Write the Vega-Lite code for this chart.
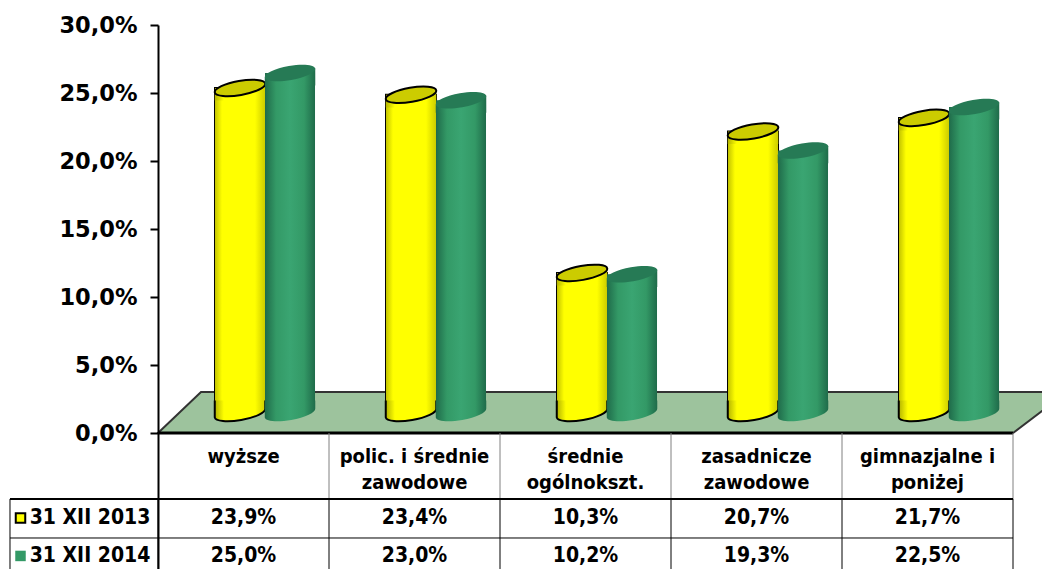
{
"$schema":"https://vega.github.io/schema/vega-lite/v6.json",
"width":855,"height":544,
"autosize":"none",
"padding":{"left":158,"top":25,"right":29,"bottom":0},
"background":"white",
"config":{"view":{"stroke":null},"text":{"font":"DejaVu Sans Condensed","fontWeight":"bold","fontSize":21,"color":"#000"}},
"data":{"values":[
{"kategoria":"wyższe","nazwa":"wyższe","seria":"31 XII 2013","wartosc":23.9,"tekst":"23,9%"},
{"kategoria":"wyższe","nazwa":"wyższe","seria":"31 XII 2014","wartosc":25.0,"tekst":"25,0%"},
{"kategoria":"polic.","nazwa":"polic. i średnie|zawodowe","seria":"31 XII 2013","wartosc":23.4,"tekst":"23,4%"},
{"kategoria":"polic.","nazwa":"polic. i średnie|zawodowe","seria":"31 XII 2014","wartosc":23.0,"tekst":"23,0%"},
{"kategoria":"średnie","nazwa":"średnie|ogólnokszt.","seria":"31 XII 2013","wartosc":10.3,"tekst":"10,3%"},
{"kategoria":"średnie","nazwa":"średnie|ogólnokszt.","seria":"31 XII 2014","wartosc":10.2,"tekst":"10,2%"},
{"kategoria":"zasadnicze","nazwa":"zasadnicze|zawodowe","seria":"31 XII 2013","wartosc":20.7,"tekst":"20,7%"},
{"kategoria":"zasadnicze","nazwa":"zasadnicze|zawodowe","seria":"31 XII 2014","wartosc":19.3,"tekst":"19,3%"},
{"kategoria":"gimnazjalne","nazwa":"gimnazjalne i|poniżej","seria":"31 XII 2013","wartosc":21.7,"tekst":"21,7%"},
{"kategoria":"gimnazjalne","nazwa":"gimnazjalne i|poniżej","seria":"31 XII 2014","wartosc":22.5,"tekst":"22,5%"}
]},
"resolve":{"scale":{"x":"independent"},"axis":{"y":"independent"}},
"layer":[
{
 "data":{"values":[
  {"g":0,"gora":0,"dol":0},
  {"g":43,"gora":3.01,"dol":0},
  {"g":855,"gora":3.01,"dol":0},
  {"g":909,"gora":3.01,"dol":3.01}
 ]},
 "resolve":{"axis":{"y":"independent"}},
 "layer":[
  {"mark":{"type":"area","fill":"#9dc39d","stroke":"#333333","strokeWidth":2,"opacity":1},
   "encoding":{
    "x":{"field":"g","type":"quantitative","axis":null,"scale":{"domain":[0,855],"range":[0,855],"nice":false,"zero":false}},
    "y":{"field":"gora","type":"quantitative","title":null,
     "scale":{"domain":[-10,30],"nice":false,"zero":false},
     "axis":{"values":[0,5,10,15,20,25,30],"title":null,"grid":false,"zindex":1,
      "labelExpr":"replace(format(datum.value,'.1f'),'.',',')+'%'",
      "labelFont":"DejaVu Sans","labelFontWeight":"bold","labelFontSize":22.5,"labelColor":"#000",
      "labelPadding":13,"tickSize":8,"tickWidth":2,"tickColor":"#000","domainColor":"#000","domainWidth":2,"labelOverlap":false,"labelBound":false,"labelFlush":false}},
    "y2":{"field":"dol"}}},
  {"data":{"values":[{}]},"mark":{"type":"rule","color":"#000","strokeWidth":3},
   "encoding":{"x":{"datum":0,"type":"quantitative"},"x2":{"datum":855},"y":{"datum":0,"axis":null}}}
 ]
},
{
 "encoding":{
  "x":{"field":"kategoria","type":"nominal","axis":null,"scale":{"type":"band","domain":["seria","wyższe","polic.","średnie","zasadnicze","gimnazjalne"],"range":[-171,855],"paddingInner":0,"paddingOuter":0}},
  "xOffset":{"field":"seria","type":"nominal","scale":{"domain":["31 XII 2013","31 XII 2014"],"paddingInner":0,"paddingOuter":0.71,"align":0.803}}
 },
 "layer":[
  {"transform":[{"filter":{"field":"seria","equal":"31 XII 2013"}}],
   "layer":[
    {"mark":{"type":"bar","stroke":"#000","strokeWidth":2,"yOffset":-20,"y2Offset":-27,"fill":"#ffff00"},
     "encoding":{"y":{"field":"wartosc","type":"quantitative","axis":null},"y2":{"datum":0}}},
    {"mark":{"type":"bar","xOffset":2,"yOffset":-20,"y2Offset":-27,"fill":{"gradient":"linear","x1":0,"x2":1,"y1":0,"y2":0,"stops":[{"offset":0,"color":"#c4c400"},{"offset":0.14,"color":"#ffff00"},{"offset":0.8,"color":"#ffff00"},{"offset":1,"color":"#cccc00"}]}},
     "encoding":{"y":{"field":"wartosc","type":"quantitative","axis":null},"y2":{"datum":0}}},
    {"mark":{"type":"point","filled":true,"opacity":1,"size":2550,"yOffset":-20,"stroke":"#000","strokeWidth":2,"shape":"M-1,-.5L-1,.176A1.015,.28 -10 0 0 1,-.176L1,-.5","fill":{"gradient":"linear","x1":0,"x2":1,"y1":0,"y2":0,"stops":[{"offset":0,"color":"#b3b300"},{"offset":0.18,"color":"#ffff00"},{"offset":0.8,"color":"#ffff00"},{"offset":1,"color":"#cccc00"}]}},
     "encoding":{"y":{"datum":0,"axis":null}}},
    {"mark":{"type":"point","filled":true,"opacity":1,"size":2550,"yOffset":-20,"strokeWidth":0,"shape":"M-1,.176L-1,.5L1,.5L1,-.176Z","fill":{"gradient":"linear","x1":0,"x2":1,"y1":0,"y2":0,"stops":[{"offset":0,"color":"#b3b300"},{"offset":0.18,"color":"#ffff00"},{"offset":0.8,"color":"#ffff00"},{"offset":1,"color":"#cccc00"}]}},
     "encoding":{"y":{"field":"wartosc","type":"quantitative","axis":null}}},
    {"mark":{"type":"point","filled":true,"opacity":1,"size":2550,"yOffset":-20,"stroke":"#000","strokeWidth":2,"fill":"#cccc00","shape":"M-1,.176A1.015,.28 -10 0 1 1,-.176A1.015,.28 -10 0 1 -1,.176Z"},
     "encoding":{"y":{"field":"wartosc","type":"quantitative","axis":null}}}
   ]},
  {"transform":[{"filter":{"field":"seria","equal":"31 XII 2014"}}],
   "layer":[
    {"mark":{"type":"bar","yOffset":-20,"y2Offset":-27,"fill":{"gradient":"linear","x1":0,"x2":1,"y1":0,"y2":0,"stops":[{"offset":0,"color":"#1f6b4a"},{"offset":0.22,"color":"#339966"},{"offset":0.5,"color":"#3aa572"},{"offset":0.78,"color":"#339966"},{"offset":1,"color":"#1f6b4a"}]}},
     "encoding":{"y":{"field":"wartosc","type":"quantitative","axis":null},"y2":{"datum":0}}},
    {"mark":{"type":"point","filled":true,"opacity":1,"size":2550,"yOffset":-20,"strokeWidth":0,"shape":"M-1,-.5L-1,.176A1.015,.28 -10 0 0 1,-.176L1,-.5","fill":{"gradient":"linear","x1":0,"x2":1,"y1":0,"y2":0,"stops":[{"offset":0,"color":"#1f6b4a"},{"offset":0.22,"color":"#339966"},{"offset":0.5,"color":"#3aa572"},{"offset":0.78,"color":"#339966"},{"offset":1,"color":"#1f6b4a"}]}},
     "encoding":{"y":{"datum":0,"axis":null}}},
    {"mark":{"type":"point","filled":true,"opacity":1,"size":2550,"yOffset":-20,"strokeWidth":0,"shape":"M-1,.176L-1,.5L1,.5L1,-.176Z","fill":{"gradient":"linear","x1":0,"x2":1,"y1":0,"y2":0,"stops":[{"offset":0,"color":"#1f6b4a"},{"offset":0.22,"color":"#339966"},{"offset":0.5,"color":"#3aa572"},{"offset":0.78,"color":"#339966"},{"offset":1,"color":"#1f6b4a"}]}},
     "encoding":{"y":{"field":"wartosc","type":"quantitative","axis":null}}},
    {"mark":{"type":"point","filled":true,"opacity":1,"size":2550,"yOffset":-20,"strokeWidth":0,"fill":"#267a55","shape":"M-1,.176A1.015,.28 -10 0 1 1,-.176A1.015,.28 -10 0 1 -1,.176Z"},
     "encoding":{"y":{"field":"wartosc","type":"quantitative","axis":null}}}
   ]}
 ]
},
{
 "encoding":{
  "x":{"field":"kategoria","type":"nominal","axis":null,"scale":{"type":"band","domain":["seria","wyższe","polic.","średnie","zasadnicze","gimnazjalne"],"range":[-171,855],"paddingInner":0,"paddingOuter":0}}
 },
 "layer":[
  {"transform":[{"filter":{"field":"seria","equal":"31 XII 2013"}}],
   "mark":{"type":"rule","color":"#808080","strokeWidth":1},
   "encoding":{"x":{"field":"kategoria","type":"nominal","bandPosition":1,"axis":null},"y":{"datum":0,"axis":null},"y2":{"datum":-4.85}}},
  {"transform":[{"filter":{"field":"seria","equal":"31 XII 2013"}}],
   "mark":{"type":"rule","color":"#000","strokeWidth":1},
   "encoding":{"x":{"field":"kategoria","type":"nominal","bandPosition":1,"axis":null},"y":{"datum":-4.85,"axis":null},"y2":{"datum":-10}}},
  {"data":{"values":[{}]},"mark":{"type":"rule","color":"#000","strokeWidth":1},
   "encoding":{"x":{"datum":"seria","bandPosition":0.1345,"axis":null},"y":{"datum":-4.85,"axis":null},"y2":{"datum":-10}}},
  {"data":{"values":[{}]},"mark":{"type":"rule","color":"#000","strokeWidth":1},
   "encoding":{"x":{"datum":"seria","bandPosition":1,"axis":null},"y":{"datum":-4.85,"axis":null},"y2":{"datum":-10}}},
  {"data":{"values":[{}]},"mark":{"type":"rule","color":"#000","strokeWidth":2,"xOffset":-62.5,"x2Offset":85.5},
   "encoding":{"x":{"datum":"seria","axis":null},"x2":{"datum":"gimnazjalne"},"y":{"datum":-4.85,"axis":null}}},
  {"data":{"values":[{}]},"mark":{"type":"rule","color":"#000","strokeWidth":1,"xOffset":-62.5,"x2Offset":85.5},
   "encoding":{"x":{"datum":"seria","axis":null},"x2":{"datum":"gimnazjalne"},"y":{"datum":-7.72,"axis":null}}},
  {"transform":[{"filter":{"field":"seria","equal":"31 XII 2013"}}],
   "mark":{"type":"text","baseline":"top","lineBreak":"|","lineHeight":26,"fontSize":20},
   "encoding":{"y":{"datum":-1.03,"axis":null},"text":{"field":"nazwa"}}},
  {"transform":[{"filter":{"field":"seria","equal":"31 XII 2013"}}],
   "mark":{"type":"text"},
   "encoding":{"y":{"datum":-6.25,"axis":null},"text":{"field":"tekst"}}},
  {"transform":[{"filter":{"field":"seria","equal":"31 XII 2014"}}],
   "mark":{"type":"text"},
   "encoding":{"y":{"datum":-9.04,"axis":null},"text":{"field":"tekst"}}},
  {"data":{"values":[{"seria":"31 XII 2013"}]},
   "mark":{"type":"text","dx":17.5},
   "encoding":{"x":{"datum":"seria","axis":null},"y":{"datum":-6.25,"axis":null},"text":{"field":"seria"}}},
  {"data":{"values":[{"seria":"31 XII 2014"}]},
   "mark":{"type":"text","dx":17.5},
   "encoding":{"x":{"datum":"seria","axis":null},"y":{"datum":-9.04,"axis":null},"text":{"field":"seria"}}},
  {"data":{"values":[{"seria":"31 XII 2013"}]},
   "mark":{"type":"point","shape":"square","filled":true,"opacity":1,"size":90,"xOffset":-52,"fill":"#ffff00","stroke":"#000","strokeWidth":2},
   "encoding":{"x":{"datum":"seria","axis":null},"y":{"datum":-6.25,"axis":null}}},
  {"data":{"values":[{"seria":"31 XII 2014"}]},
   "mark":{"type":"point","shape":"square","filled":true,"opacity":1,"size":110,"xOffset":-52,"fill":"#339966","strokeWidth":0},
   "encoding":{"x":{"datum":"seria","axis":null},"y":{"datum":-9.04,"axis":null}}}
 ]
}
]
}
